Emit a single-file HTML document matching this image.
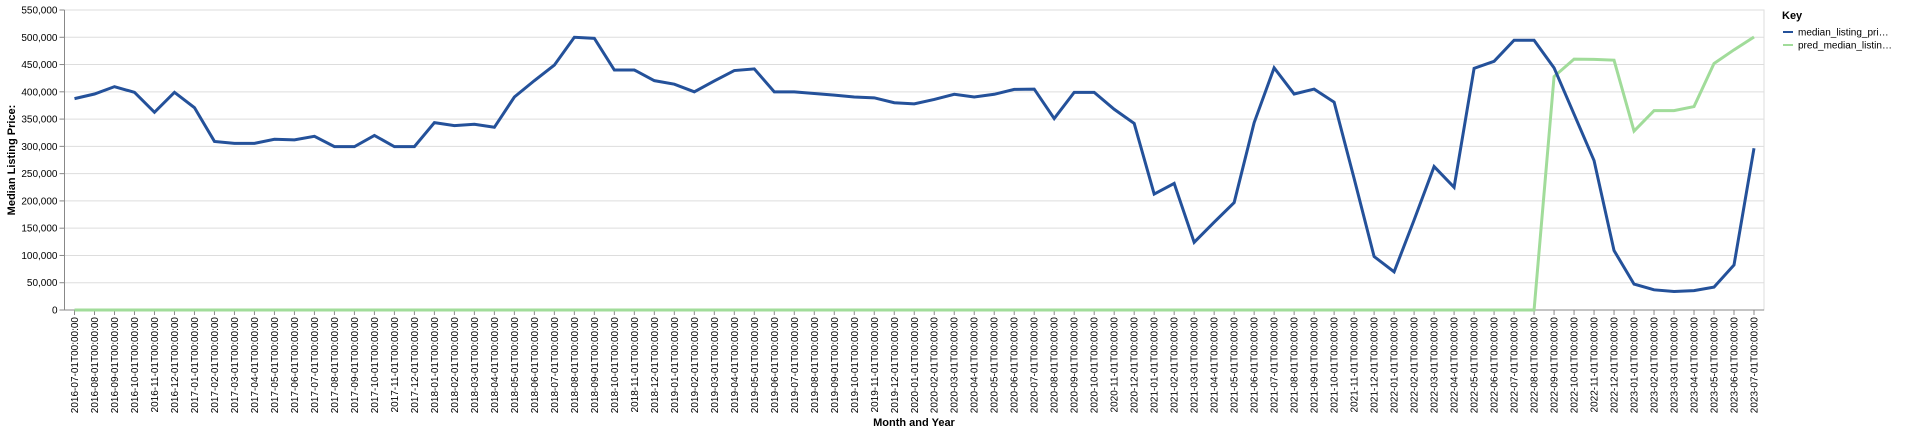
<!DOCTYPE html>
<html><head><meta charset="utf-8"><style>
html,body{margin:0;padding:0;background:#fff;}
svg{display:block;font-family:"Liberation Sans",Arial,sans-serif;}
</style></head><body>
<svg id="chart" width="1920" height="434" viewBox="0 0 1920 434" xmlns="http://www.w3.org/2000/svg">
<g id="grid"></g>
<g id="yaxis"></g>
<g id="xaxis"></g>
<g id="series"></g>
<text transform="translate(15,160) rotate(-90)" text-anchor="middle" font-size="11" font-weight="bold" fill="#000">Median Listing Price:</text>
<text x="914" y="426" text-anchor="middle" font-size="11" font-weight="bold" fill="#000">Month and Year</text>
<g>
<text x="1782" y="19" font-size="11" font-weight="bold" fill="#000">Key</text>
<line x1="1783" y1="32" x2="1793" y2="32" stroke="#24519a" stroke-width="2"/>
<text x="1798" y="35.5" font-size="10" fill="#000">median_listing_pri…</text>
<line x1="1783" y1="45" x2="1793" y2="45" stroke="#a1dc9a" stroke-width="2"/>
<text x="1798" y="48.5" font-size="10" fill="#000">pred_median_listin…</text>
</g>
</svg>
<script>
const categories = ["2016-07","2016-08","2016-09","2016-10","2016-11","2016-12","2017-01","2017-02","2017-03","2017-04","2017-05","2017-06","2017-07","2017-08","2017-09","2017-10","2017-11","2017-12","2018-01","2018-02","2018-03","2018-04","2018-05","2018-06","2018-07","2018-08","2018-09","2018-10","2018-11","2018-12","2019-01","2019-02","2019-03","2019-04","2019-05","2019-06","2019-07","2019-08","2019-09","2019-10","2019-11","2019-12","2020-01","2020-02","2020-03","2020-04","2020-05","2020-06","2020-07","2020-08","2020-09","2020-10","2020-11","2020-12","2021-01","2021-02","2021-03","2021-04","2021-05","2021-06","2021-07","2021-08","2021-09","2021-10","2021-11","2021-12","2022-01","2022-02","2022-03","2022-04","2022-05","2022-06","2022-07","2022-08","2022-09","2022-10","2022-11","2022-12","2023-01","2023-02","2023-03","2023-04","2023-05","2023-06","2023-07"];
const medianValues = [387500,396000,409500,399000,362500,399000,371000,309000,305500,305500,313000,312000,318500,299500,299500,320000,299500,299500,343500,338000,340500,335000,390500,420500,449000,500000,498000,440000,440000,420500,414000,400000,420000,439000,442000,400000,400000,397000,394000,390500,389000,380000,378000,386000,395500,390500,395500,404500,405000,351000,399000,399000,368000,342000,212500,232000,124000,161000,197000,343500,444000,396000,405000,381000,241000,98000,70000,165000,263000,225000,443000,456000,494500,494500,444000,359000,274000,109000,47500,37000,34000,35500,42000,82500,296500];
const predValues = [0,0,0,0,0,0,0,0,0,0,0,0,0,0,0,0,0,0,0,0,0,0,0,0,0,0,0,0,0,0,0,0,0,0,0,0,0,0,0,0,0,0,0,0,0,0,0,0,0,0,0,0,0,0,0,0,0,0,0,0,0,0,0,0,0,0,0,0,0,0,0,0,0,0,428000,460000,459500,458000,328000,365500,365500,373000,452000,477000,500500];
const yTicks = [0,50000,100000,150000,200000,250000,300000,350000,400000,450000,500000,550000];

const NS="http://www.w3.org/2000/svg";
const L=64.5,R=1764,T=10,B=310,yMax=550000;
const step=(R-L)/categories.length;
function x(i){return L+step*(i+0.5);}
function y(v){return B-(v/yMax)*(B-T);}
function mk(tag,attrs,parent){const e=document.createElementNS(NS,tag);for(const k in attrs)e.setAttribute(k,attrs[k]);parent.appendChild(e);return e;}
const grid=document.getElementById('grid'),ya=document.getElementById('yaxis'),xa=document.getElementById('xaxis'),ser=document.getElementById('series');
mk('rect',{x:L,y:T,width:R-L,height:B-T,fill:'none',stroke:'#ddd'},grid);
yTicks.forEach(v=>{
  const gl=mk('line',{x1:L,x2:R,y1:y(v),y2:y(v),stroke:'#ddd'},grid);
  
  
  mk('line',{x1:L-5,x2:L,y1:y(v),y2:y(v),stroke:'#888'},ya);
  const t=mk('text',{x:L-7,y:y(v)+3.5,'text-anchor':'end','font-size':10,fill:'#000'},ya);
  t.textContent=v.toLocaleString('en-US');
  
  
});
mk('line',{x1:L,x2:L,y1:T,y2:B,stroke:'#888'},ya);
mk('line',{x1:L,x2:R,y1:B,y2:B,stroke:'#888'},xa);
categories.forEach((c,i)=>{
  const xi=x(i);
  mk('line',{x1:xi,x2:xi,y1:B,y2:B+5,stroke:'#888'},xa);
  const t=mk('text',{transform:`translate(${xi+3.5},${B+7}) rotate(-90)`,'text-anchor':'end','font-size':10,fill:'#000'},xa);
  t.textContent=c+'-01T00:00:00';
  
  
});
function line(vals,color,name){
  const d=vals.map((v,i)=>(i?'L':'M')+x(i).toFixed(2)+','+y(v).toFixed(2)).join('');
  const p=mk('path',{d:d,fill:'none',stroke:color,'stroke-width':3,'stroke-linejoin':'miter'},ser);
  
  
}
line(predValues,'#a1dc9a','pred-median-line');
line(medianValues,'#24519a','median-listing-price-line');
</script>
</body></html>
